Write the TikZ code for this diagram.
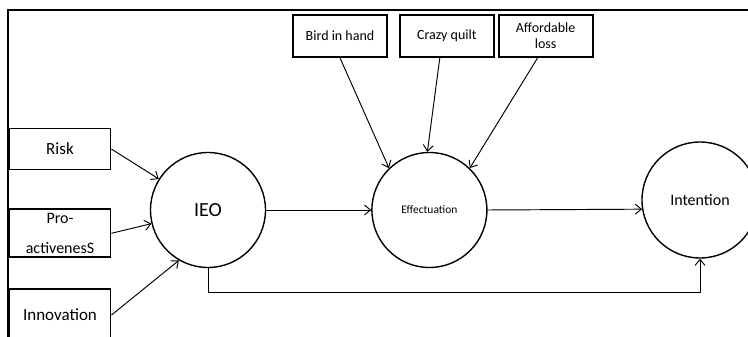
\documentclass[tikz,border=0pt]{standalone}
\usepackage{fontspec}
\setmainfont{Carlito}
\usetikzlibrary{arrows.meta,positioning}

\begin{document}
\begin{tikzpicture}[
    x=1pt, y=-1pt,
    >={Straight Barb[length=6pt,width=10pt]},
    node distance=40pt and 11pt,
    factor/.style={draw, line width=1.8pt, minimum width=101pt, inner sep=0pt,
                   font=\fontsize{17}{20}\selectfont},
    source/.style={draw, line width=1.8pt, minimum width=94pt, minimum height=42pt,
                   inner sep=0pt, align=center, font=\fontsize{14}{17}\selectfont},
    construct/.style={draw, circle, line width=1.4pt, minimum size=115pt, inner sep=0pt},
    link/.style={->, line width=0.95pt}
  ]

  \useasboundingbox (0,0) rectangle (748,337);
  \clip (0,0) rectangle (748,337);

  %% Outer frame (runs off the right and bottom edges)
  \draw[line width=1.4pt] (8,360) -- (8,10) -- (760,10);

  %% Dimensions of IEO, left column
  \node (risk) [factor, minimum height=41pt] at (60,149) {Risk};
  \node (pro)  [factor, minimum height=48pt, align=center,
                font=\fontsize{16}{30}\selectfont, below=38pt of risk] {Pro-\\activenesS};
  \node (inno) [factor, minimum height=52pt, below=30pt of pro] {Innovation};

  %% Constructs
  \node (ieo) [construct, font=\fontsize{20}{24}\selectfont] at (208,210) {IEO};
  \node (eff) [construct, font=\fontsize{11.5}{14}\selectfont, right=105pt of ieo] {Effectuation};
  \node (int) [construct, minimum size=116pt, font=\fontsize{16}{19}\selectfont] at (700,200) {Intention};

  %% Effectuation principles, top row
  \node (bird)   [source] at (340,36) {Bird in hand};
  \node (quilt)  [source, right=11pt of bird] {Crazy quilt};
  \node (afford) [source, right=3pt of quilt] {Affordable\\[-1pt]loss};

  %% Dimensions into IEO
  \draw[link] (risk.east) -- (ieo);
  \draw[link] (pro.east)  -- (ieo);
  \draw[link] (inno.east) -- (ieo.240);

  %% Principles into effectuation
  \draw[link] (bird.south) -- (eff.134);
  \draw[link] ([xshift=-7pt]quilt.south) -- (eff.92);
  \draw[link] ([xshift=-8pt]afford.south) -- (eff.46);

  %% Main path and direct effect
  \draw[link] (ieo) -- (eff);
  \draw[link] (eff.east) -- (int.189);
  \draw[link] (ieo.south) -- ++(0,24) -| (int.south);

\end{tikzpicture}
\end{document}
